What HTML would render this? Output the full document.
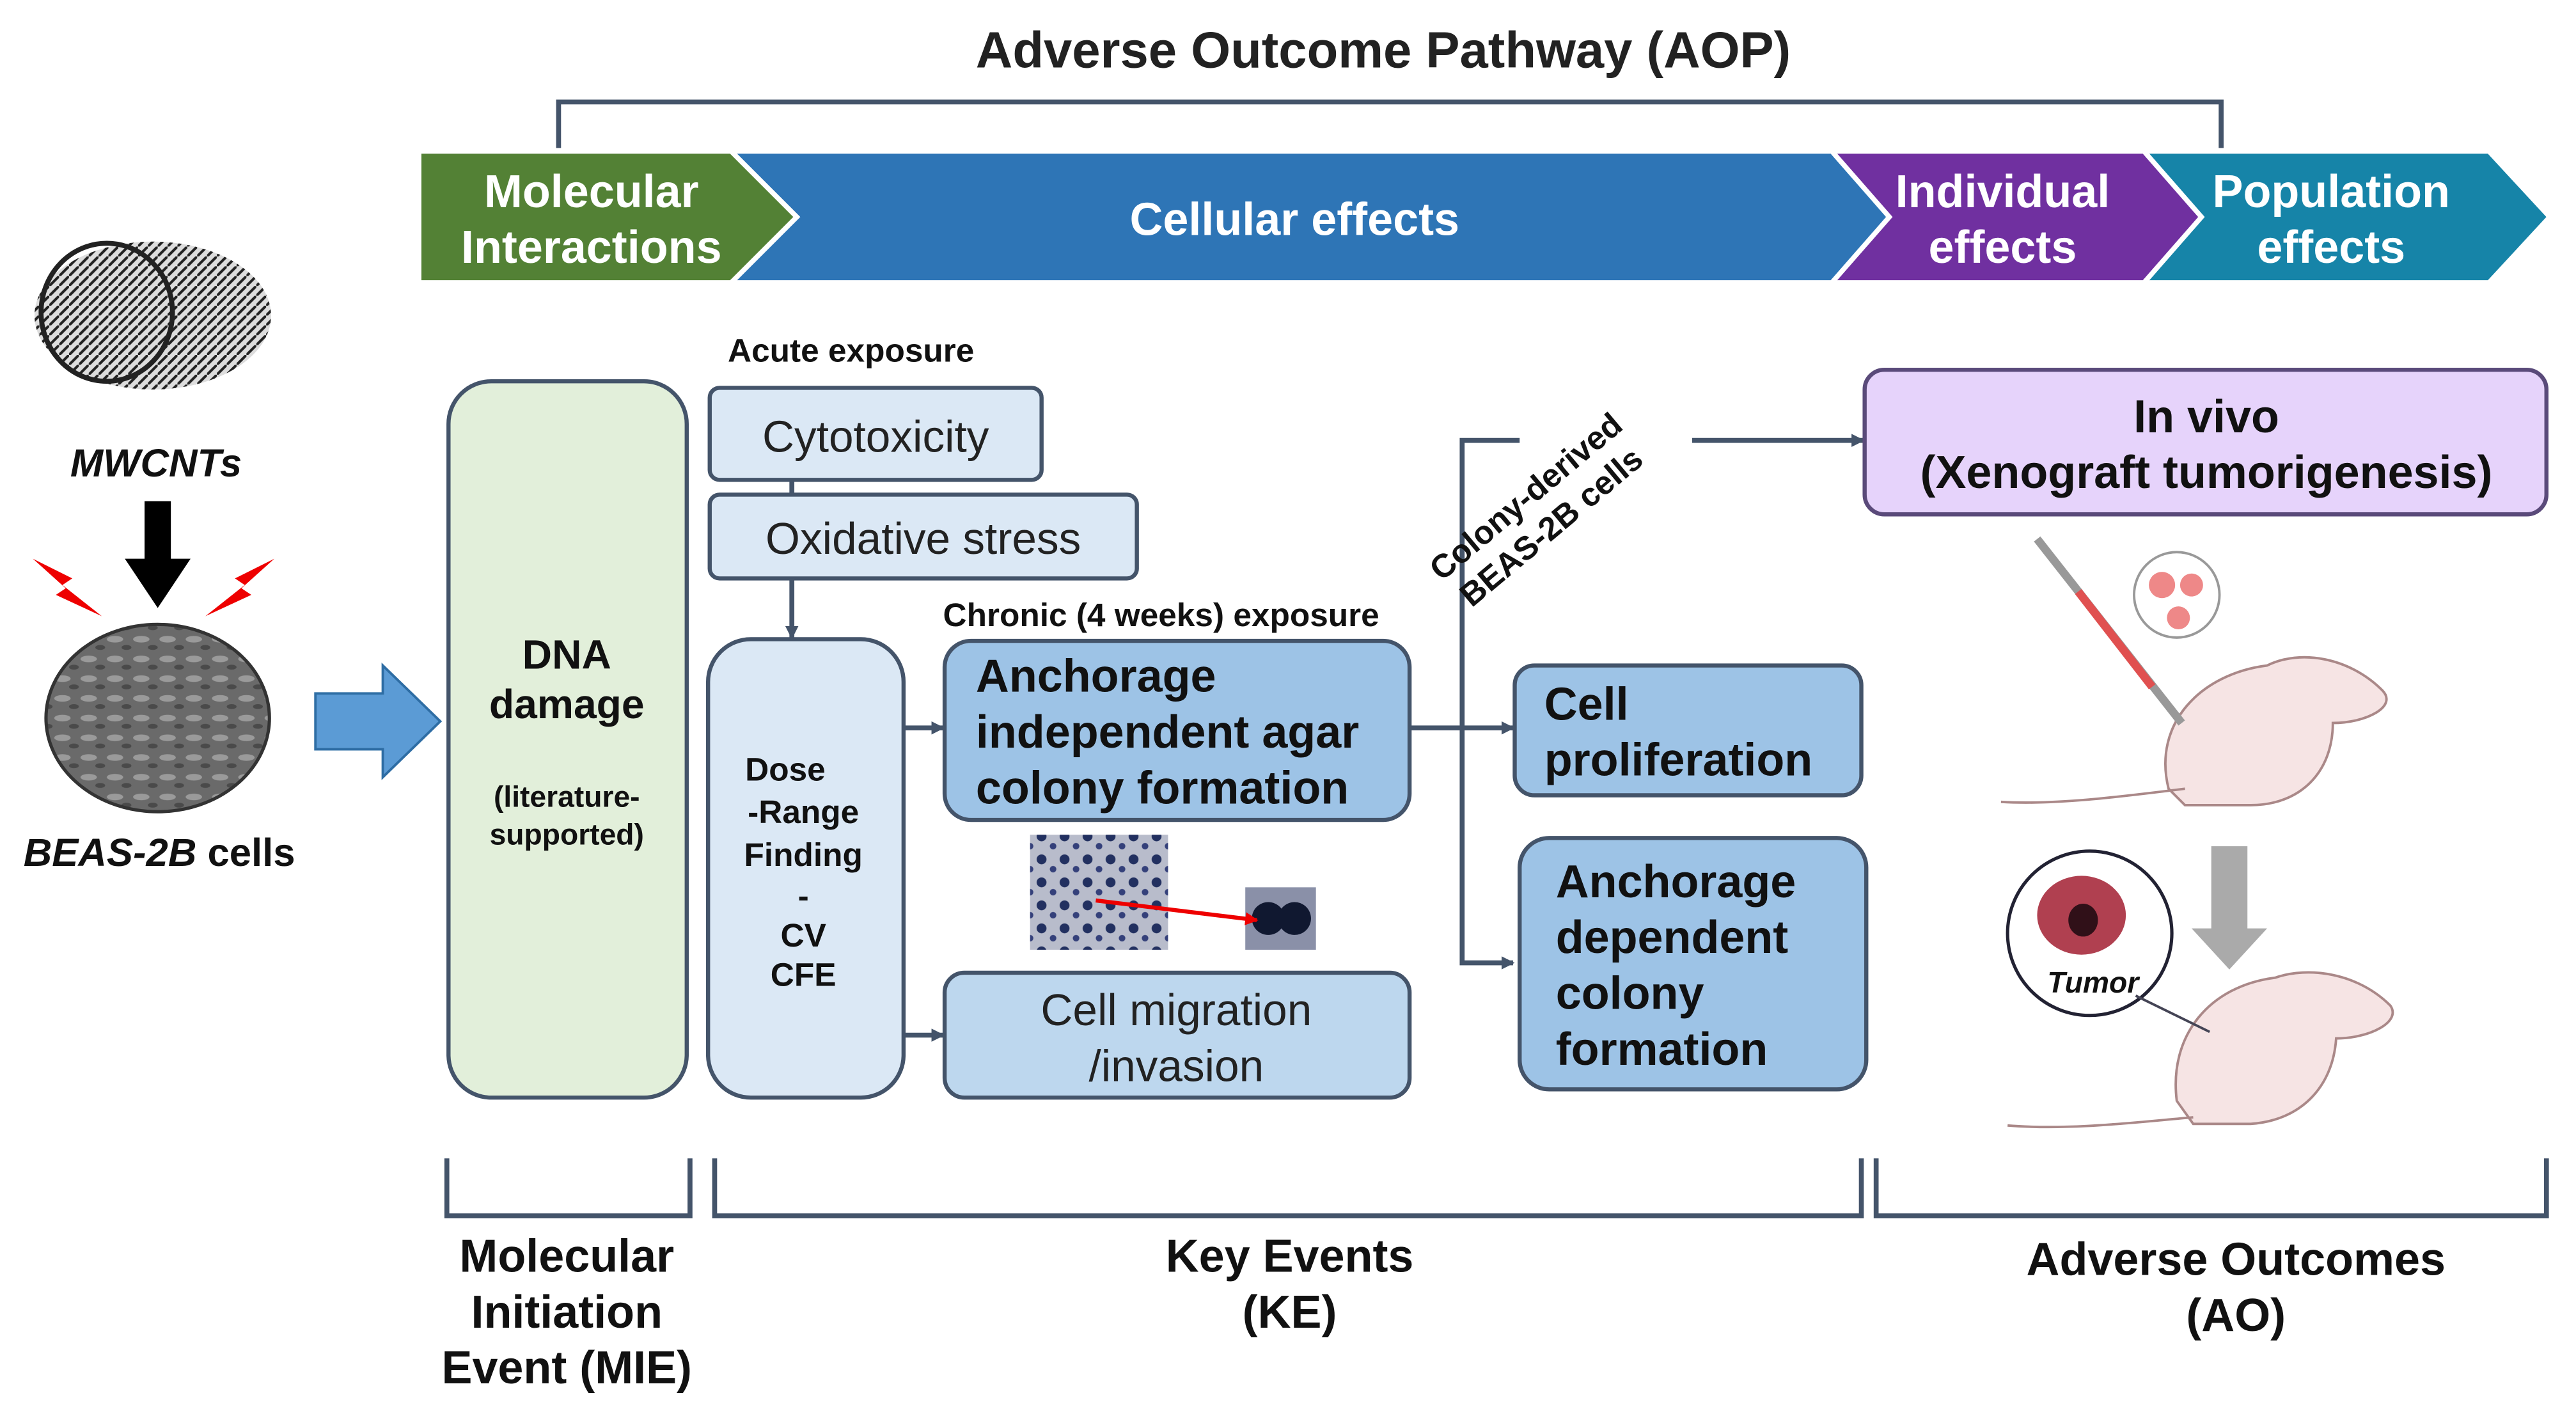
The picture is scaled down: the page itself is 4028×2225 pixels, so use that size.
<!DOCTYPE html>
<html><head><meta charset="utf-8"><style>
html,body{margin:0;padding:0;background:#fff;}
svg{display:block;}
text{font-family:"Liberation Sans",sans-serif;}
</style></head><body>
<svg width="4028" height="2225" viewBox="0 0 1568 866" xmlns="http://www.w3.org/2000/svg">
<defs>
<marker id="ah" markerWidth="8" markerHeight="8" refX="7" refY="4" orient="auto" markerUnits="userSpaceOnUse"><path d="M0,0 L8,4 L0,8 Z" fill="#44546a"/></marker>
<marker id="ahr" markerWidth="8" markerHeight="8" refX="7" refY="4" orient="auto" markerUnits="userSpaceOnUse"><path d="M0,0 L8,4 L0,8 Z" fill="#e00"/></marker>
<pattern id="cnt" width="6" height="6" patternUnits="userSpaceOnUse"><rect width="6" height="6" fill="#ddd"/><path d="M0,6 L6,0" stroke="#222" stroke-width="1.6"/></pattern>
<pattern id="col" width="14" height="14" patternUnits="userSpaceOnUse"><rect width="14" height="14" fill="#b8bccb"/><circle cx="4" cy="5" r="3" fill="#223060"/><circle cx="11" cy="11" r="2" fill="#34407a"/></pattern>
<pattern id="cell" width="16" height="12" patternUnits="userSpaceOnUse"><rect width="16" height="12" fill="#6a6a6a"/><ellipse cx="6" cy="5" rx="5" ry="2" fill="#9a9a9a"/><ellipse cx="13" cy="10" rx="3" ry="1.5" fill="#4a4a4a"/></pattern>
</defs>

<!-- title -->
<text x="842" y="41" font-size="31" font-weight="bold" text-anchor="middle" fill="#222">Adverse Outcome Pathway (AOP)</text>
<path d="M340,90 L340,62 L1352,62 L1352,90" fill="none" stroke="#44546a" stroke-width="3"/>

<!-- banner -->
<g stroke="#fff" stroke-width="3">
<polygon points="1305,92 1515,92 1552,132 1515,172 1305,172 1340,132" fill="#1684a8"/>
<polygon points="1115,92 1305,92 1340,132 1305,172 1115,172 1150,132" fill="#7030a0"/>
<polygon points="445,92 1115,92 1150,132 1115,172 445,172 485,132" fill="#2e75b6"/>
<polygon points="255,92 445,92 485,132 445,172 255,172" fill="#538135"/>
</g>
<g fill="#fff" font-size="28" font-weight="bold" text-anchor="middle">
<text x="360" y="126">Molecular</text><text x="360" y="160">Interactions</text>
<text x="788" y="143">Cellular effects</text>
<text x="1219" y="126">Individual</text><text x="1219" y="160">effects</text>
<text x="1419" y="126">Population</text><text x="1419" y="160">effects</text>
</g>

<!-- left side -->
<ellipse cx="93" cy="192" rx="72" ry="45" fill="url(#cnt)"/>
<ellipse cx="65" cy="190" rx="40" ry="42" fill="none" stroke="#222" stroke-width="3"/>
<text x="95" y="290" font-size="24" font-weight="bold" font-style="italic" text-anchor="middle" fill="#111">MWCNTs</text>
<polygon points="88,305 104,305 104,340 116,340 96,370 76,340 88,340" fill="#000"/>
<polygon points="20,340 44,352 38,356 62,375 34,362 40,358" fill="#e00"/>
<polygon points="167,340 143,352 149,356 125,375 153,362 147,358" fill="#e00"/>
<ellipse cx="96" cy="437" rx="68" ry="57" fill="url(#cell)" stroke="#333" stroke-width="2"/>
<text x="97" y="527" font-size="24" font-weight="bold" text-anchor="middle" fill="#111"><tspan font-style="italic">BEAS-2B</tspan> cells</text>
<polygon points="192,422 233,422 233,405 268,439 233,473 233,456 192,456" fill="#5b9bd5" stroke="#2e6da4" stroke-width="1.5"/>

<!-- DNA box -->
<rect x="273" y="232" width="145" height="436" rx="26" fill="#e2efda" stroke="#44546a" stroke-width="2.5"/>
<g text-anchor="middle" fill="#111" font-weight="bold">
<text x="345" y="407" font-size="25">DNA</text><text x="345" y="437" font-size="25">damage</text>
<text x="345" y="491" font-size="18">(literature-</text><text x="345" y="514" font-size="18">supported)</text>
</g>

<!-- acute -->
<text x="443" y="220" font-size="20" font-weight="bold" fill="#111">Acute exposure</text>
<rect x="432" y="236" width="202" height="56" rx="6" fill="#dbe8f5" stroke="#44546a" stroke-width="2.5"/>
<text x="533" y="275" font-size="27" text-anchor="middle" fill="#222">Cytotoxicity</text>
<line x1="482" y1="292" x2="482" y2="301" stroke="#44546a" stroke-width="3"/>
<rect x="432" y="301" width="260" height="51" rx="6" fill="#dbe8f5" stroke="#44546a" stroke-width="2.5"/>
<text x="562" y="337" font-size="27" text-anchor="middle" fill="#222">Oxidative stress</text>
<line x1="482" y1="352" x2="482" y2="388" stroke="#44546a" stroke-width="3" marker-end="url(#ah)"/>

<rect x="431" y="389" width="119" height="279" rx="26" fill="#dbe8f5" stroke="#44546a" stroke-width="2.5"/>
<g font-size="20" font-weight="bold" fill="#111" text-anchor="middle">
<text x="478" y="475">Dose</text><text x="489" y="501">-Range</text><text x="489" y="527">Finding</text>
<text x="489" y="552">-</text><text x="489" y="576">CV</text><text x="489" y="600">CFE</text>
</g>

<text x="574" y="381" font-size="20" font-weight="bold" fill="#111">Chronic (4 weeks) exposure</text>
<rect x="575" y="390" width="283" height="109" rx="16" fill="#9dc3e6" stroke="#44546a" stroke-width="2.5"/>
<g font-size="28" font-weight="bold" fill="#111">
<text x="594" y="421">Anchorage</text><text x="594" y="455">independent agar</text><text x="594" y="489">colony formation</text>
</g>
<line x1="550" y1="443" x2="574" y2="443" stroke="#44546a" stroke-width="3" marker-end="url(#ah)"/>
<rect x="627" y="508" width="84" height="70" fill="url(#col)"/>
<rect x="758" y="540" width="43" height="38" fill="#8a90a8"/>
<circle cx="772" cy="559" r="10" fill="#101830"/><circle cx="788" cy="559" r="10" fill="#101830"/>
<line x1="667" y1="548" x2="765" y2="560" stroke="#e00" stroke-width="2.5" marker-end="url(#ahr)"/>
<rect x="575" y="592" width="283" height="76" rx="12" fill="#bdd7ee" stroke="#44546a" stroke-width="2.5"/>
<text x="716" y="624" font-size="27" text-anchor="middle" fill="#222">Cell migration</text>
<text x="716" y="658" font-size="27" text-anchor="middle" fill="#222">/invasion</text>
<line x1="550" y1="630" x2="574" y2="630" stroke="#44546a" stroke-width="3" marker-end="url(#ah)"/>

<!-- right branches -->
<line x1="858" y1="443" x2="921" y2="443" stroke="#44546a" stroke-width="3" marker-end="url(#ah)"/>
<path d="M925,268 L890,268 L890,586 L921,586" fill="none" stroke="#44546a" stroke-width="3" marker-end="url(#ah)"/>
<line x1="1030" y1="268" x2="1134" y2="268" stroke="#44546a" stroke-width="3" marker-end="url(#ah)"/>
<g transform="translate(937,312) rotate(-40)" font-size="20" font-weight="bold" fill="#111" text-anchor="middle">
<text x="0" y="-6">Colony-derived</text><text x="0" y="18">BEAS-2B cells</text>
</g>
<rect x="922" y="405" width="211" height="79" rx="12" fill="#9dc3e6" stroke="#44546a" stroke-width="2.5"/>
<g font-size="28" font-weight="bold" fill="#111">
<text x="940" y="438">Cell</text><text x="940" y="472">proliferation</text>
</g>
<rect x="925" y="510" width="211" height="153" rx="18" fill="#9dc3e6" stroke="#44546a" stroke-width="2.5"/>
<g font-size="28" font-weight="bold" fill="#111">
<text x="947" y="546">Anchorage</text><text x="947" y="580">dependent</text><text x="947" y="614">colony</text><text x="947" y="648">formation</text>
</g>

<!-- in vivo -->
<rect x="1135" y="225" width="415" height="88" rx="12" fill="#e6d3fb" stroke="#5a4a7a" stroke-width="2.5"/>
<text x="1343" y="263" font-size="28" font-weight="bold" text-anchor="middle" fill="#111">In vivo</text>
<text x="1343" y="297" font-size="28" font-weight="bold" text-anchor="middle" fill="#111">(Xenograft tumorigenesis)</text>

<!-- mice -->
<g fill="#f6e4e4" stroke="#a88" stroke-width="1.5">
<path d="M1320,480 C1310,440 1340,410 1380,405 C1400,395 1430,400 1450,420 C1460,430 1440,440 1420,440 C1420,470 1400,490 1370,490 L1330,490 Z"/>
<path d="M1330,480 C1290,485 1250,490 1218,488" fill="none"/>
<path d="M1325,670 C1320,630 1345,600 1385,595 C1405,588 1435,592 1455,612 C1462,622 1442,632 1422,632 C1420,662 1400,682 1370,684 L1335,684 Z"/>
<path d="M1335,680 C1300,683 1260,688 1222,685" fill="none"/>
</g>
<line x1="1240" y1="328" x2="1328" y2="440" stroke="#999" stroke-width="5"/>
<line x1="1265" y1="360" x2="1310" y2="418" stroke="#e05050" stroke-width="5"/>
<circle cx="1325" cy="362" r="26" fill="#fff" stroke="#999" stroke-width="1.5"/>
<circle cx="1316" cy="356" r="8" fill="#e88" /><circle cx="1334" cy="356" r="7" fill="#e88"/><circle cx="1326" cy="376" r="7" fill="#e88"/>
<polygon points="1346,515 1368,515 1368,565 1380,565 1357,590 1334,565 1346,565" fill="#aaa"/>
<circle cx="1272" cy="568" r="50" fill="#fff" stroke="#223" stroke-width="2"/>
<ellipse cx="1267" cy="557" rx="27" ry="24" fill="#b04050"/>
<ellipse cx="1268" cy="560" rx="9" ry="10" fill="#301018"/>
<text x="1274" y="604" font-size="18" font-weight="bold" font-style="italic" text-anchor="middle" fill="#111">Tumor</text>
<line x1="1300" y1="606" x2="1345" y2="628" stroke="#445" stroke-width="1.5"/>

<!-- bottom brackets -->
<g fill="none" stroke="#44546a" stroke-width="3">
<path d="M272,705 L272,740 L420,740 L420,705"/>
<path d="M435,705 L435,740 L1133,740 L1133,705"/>
<path d="M1142,705 L1142,740 L1550,740 L1550,705"/>
</g>
<g font-size="28" font-weight="bold" text-anchor="middle" fill="#111">
<text x="345" y="774">Molecular</text><text x="345" y="808">Initiation</text><text x="345" y="842">Event (MIE)</text>
<text x="785" y="774">Key Events</text><text x="785" y="808">(KE)</text>
<text x="1361" y="776">Adverse Outcomes</text><text x="1361" y="810">(AO)</text>
</g>
</svg>
</body></html>
